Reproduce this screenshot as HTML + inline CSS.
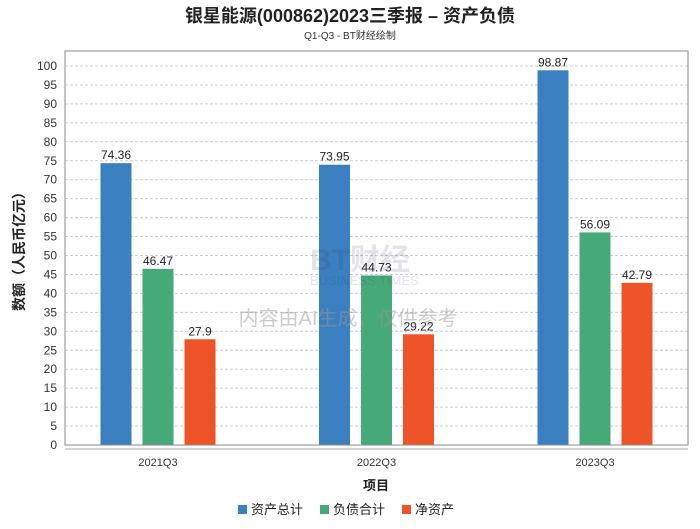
<!DOCTYPE html>
<html><head><meta charset="utf-8"><style>
body{margin:0;background:#fff;font-family:"Liberation Sans","Noto Sans CJK SC",sans-serif;}
svg text{font-family:"Liberation Sans","Noto Sans CJK SC",sans-serif;}
</style></head><body>
<svg id="c" width="700" height="524" xmlns="http://www.w3.org/2000/svg">
<text x="350" y="22" text-anchor="middle" font-size="18" font-weight="bold" fill="#222">银星能源(000862)2023三季报 – 资产负债</text>
<text x="350" y="39" text-anchor="middle" font-size="10" fill="#333">Q1-Q3 - BT财经绘制</text>
<g id="grid"></g><g id="bars"></g>
<g opacity="0.13">
<text x="310" y="270" font-size="30" font-weight="bold" fill="#336">BT财经</text>
<text x="310" y="285" font-size="13" fill="#336">BUSINESS TIMES</text>
</g>
<text x="348" y="325" text-anchor="middle" font-size="20" fill="#999" opacity="0.5">内容由AI生成，仅供参考</text>
<rect x="65" y="51" width="623" height="394" fill="none" stroke="#888"/>
<line x1="65" y1="449" x2="688" y2="449" stroke="#aaa"/>
<text transform="translate(24,248) rotate(-90)" text-anchor="middle" font-size="14" font-weight="bold" fill="#222">数额（人民币亿元）</text>
<text x="376" y="490" text-anchor="middle" font-size="13" font-weight="bold" fill="#222">项目</text>
<g id="legend"></g>
</svg>
<script>
const categories=["2021Q3","2022Q3","2023Q3"];
const seriesNames=["资产总计","负债合计","净资产"];
const totalAssets=[74.36,73.95,98.87];
const totalLiab=[46.47,44.73,56.09];
const netAssets=[27.9,29.22,42.79];
const yTicks=[0,5,10,15,20,25,30,35,40,45,50,55,60,65,70,75,80,85,90,95,100];
const colors=["#3a7fbf","#46a978","#ef5428"];
const NS="http://www.w3.org/2000/svg";
const y0=445,pxPer=3.79;
const y=v=>y0-v*pxPer;
const xc=i=>158+i*218.5;
function mk(t,a,p){const e=document.createElementNS(NS,t);for(const k in a)e.setAttribute(k,a[k]);p.appendChild(e);return e;}
const g=document.getElementById('grid');
yTicks.forEach(v=>{
 const l=mk('line',{x1:65,x2:688,y1:y(v),y2:y(v),stroke:'#ccc','stroke-dasharray':'3,2'},g);
 
 
 const t=mk('text',{x:57,y:y(v)+4,'text-anchor':'end','font-size':12,fill:'#333'},g);
 t.textContent=v;
 
 
});
const b=document.getElementById('bars');
const series=[totalAssets,totalLiab,netAssets];
categories.forEach((c,i)=>{
 const t=mk('text',{x:xc(i),y:466,'text-anchor':'middle','font-size':11,fill:'#333'},b);
 t.textContent=c;
 
 
 series.forEach((s,j)=>{
  const cx=xc(i)+(j-1)*42;
  const r=mk('rect',{x:cx-15.5,y:y(s[i]),width:31,height:s[i]*pxPer,fill:colors[j]},b);
  
  
  const l=mk('text',{x:cx,y:y(s[i])-4,'text-anchor':'middle','font-size':12,fill:'#222'},b);
  l.textContent=s[i];
  
  
 });
});
const lg=document.getElementById('legend');
const lx=[238,320,402];
seriesNames.forEach((n,j)=>{
 const r=mk('rect',{x:lx[j],y:505,width:9,height:9,fill:colors[j]},lg);
 
 
 const t=mk('text',{x:lx[j]+13,y:514,'font-size':13,fill:'#222'},lg);
 t.textContent=n;
 
 
});
</script>
</body></html>
